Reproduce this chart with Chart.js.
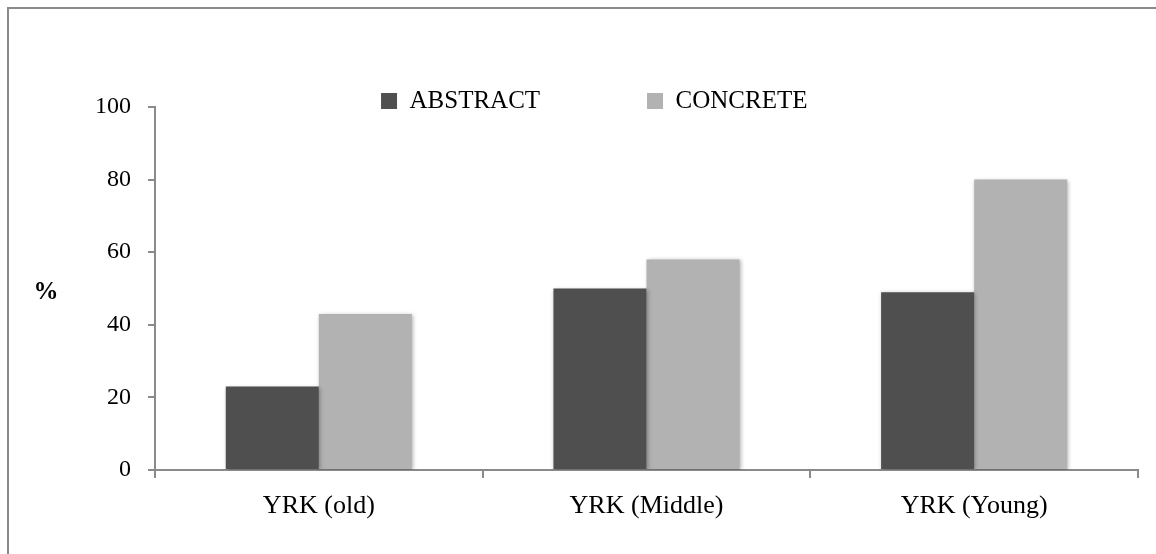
<!DOCTYPE html>
<html>
<head>
<meta charset="utf-8">
<script src="https://cdn.jsdelivr.net/npm/chart.js@4/dist/chart.umd.min.js"></script>
<style>
  html, body { margin: 0; padding: 0; background: #fff; overflow: hidden; }
  #wrap { position: relative; width: 1156px; height: 554px; }
  #frame {
    position: absolute; left: 7px; top: 7px; width: 1200px; height: 600px;
    border-left: 2px solid #8a8a8a; border-top: 2px solid #8a8a8a;
    pointer-events: none;
  }
  canvas { position: absolute; left: 0; top: 0; }
</style>
</head>
<body>
<div id="wrap">
  <canvas id="barChart" width="1156" height="554"></canvas>
  <div id="frame"></div>
</div>
<script>
// Catégories et valeurs
const categories = ['YRK (old)', 'YRK (Middle)', 'YRK (Young)'];
const abstractValues = [23, 50, 49];
const concreteValues = [43, 58, 80];
const yTicks = [0, 20, 40, 60, 80, 100];
const axisTitle = '%';

const fontFamily = '"Liberation Serif", "DejaVu Serif", serif';
const axisColor = '#8a8a8a';

// Ombre légère sous les barres
const barShadow = {
    id: 'barShadow',
    beforeDatasetsDraw(chart) {
        const ctx = chart.ctx;
        ctx.save();
        ctx.shadowColor = 'rgba(0, 0, 0, 0.3)';
        ctx.shadowBlur = 4;
        ctx.shadowOffsetX = 1;
        ctx.shadowOffsetY = 1;
    },
    afterDatasetsDraw(chart) {
        chart.ctx.restore();
    }
};

// La légende déborde un peu sur la zone du graphique : on agrandit sa zone de dessin
const legendRoom = {
    id: 'legendRoom',
    afterLayout(chart) {
        if (chart.legend) {
            chart.legend.bottom = chart.legend.top + chart.legend.height + 20;
        }
    }
};

// Titre horizontal de l'axe Y ("%")
const yTitle = {
    id: 'yTitle',
    afterDraw(chart) {
        const { ctx, chartArea } = chart;
        ctx.save();
        ctx.font = 'bold 25px ' + fontFamily;
        ctx.fillStyle = '#000';
        ctx.textAlign = 'center';
        ctx.textBaseline = 'middle';
        ctx.fillText(axisTitle, chartArea.left - 109, (chartArea.top + chartArea.bottom) / 2 + 4);
        ctx.restore();
    }
};

const ctx = document.getElementById('barChart').getContext('2d');
const chart = new Chart(ctx, {
    type: 'bar',
    data: {
        labels: categories,
        datasets: [
            {
                label: 'ABSTRACT',
                data: abstractValues,
                backgroundColor: '#4f4f4f',
                borderWidth: 0,
                categoryPercentage: 0.568,
                barPercentage: 1
            },
            {
                label: 'CONCRETE',
                data: concreteValues,
                backgroundColor: '#b2b2b2',
                borderWidth: 0,
                categoryPercentage: 0.568,
                barPercentage: 1
            }
        ]
    },
    options: {
        responsive: false,
        animation: false,
        layout: {
            padding: { left: 50.5, right: 18, top: -18.4, bottom: 24 }
        },
        plugins: {
            tooltip: { enabled: false },
            legend: {
                position: 'top',
                maxHeight: 125.4,
                labels: {
                    boxWidth: 16,
                    boxHeight: 16,
                    padding: 106.9,
                    color: '#000',
                    font: { family: fontFamily, size: 25 }
                }
            }
        },
        scales: {
            x: {
                grid: {
                    display: true,
                    offset: true,
                    drawOnChartArea: false,
                    drawTicks: true,
                    tickLength: 8,
                    color: axisColor,
                    lineWidth: 2
                },
                border: { display: true, color: axisColor, width: 2 },
                ticks: {
                    color: '#000',
                    padding: 13,
                    font: { family: fontFamily, size: 26 }
                },
                afterFit(scale) { scale.height = 60; }
            },
            y: {
                min: 0,
                max: 100,
                afterBuildTicks(scale) {
                    scale.ticks = yTicks.map(v => ({ value: v }));
                },
                grid: {
                    display: true,
                    drawOnChartArea: false,
                    drawTicks: true,
                    tickLength: 7,
                    color: axisColor,
                    lineWidth: 2
                },
                border: { display: true, color: axisColor, width: 2 },
                ticks: {
                    color: '#000',
                    padding: 17,
                    font: { family: fontFamily, size: 24 }
                },
                afterFit(scale) { scale.width = 104.5; }
            }
        }
    },
    plugins: [barShadow, legendRoom, yTitle]
});
</script>
</body>
</html>
